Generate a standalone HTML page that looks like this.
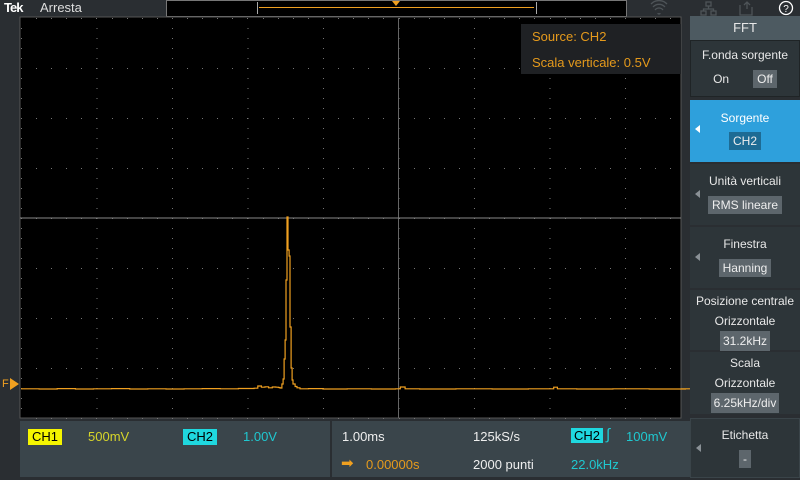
<!DOCTYPE html>
<html><head><meta charset="utf-8"><style>
body{margin:0;width:800px;height:480px;background:#2a2e32;overflow:hidden;font-family:"Liberation Sans",sans-serif;position:relative}
.abs{position:absolute}
.menu{position:absolute;left:690px;width:110px;background:#2d3539;color:#e8e8e8;font-size:12px;text-align:center}
.val{display:inline-block;background:#5d666c;color:#eee;padding:2px 4px;font-size:12px}
.tri{position:absolute;left:5px;width:0;height:0;border-top:4px solid transparent;border-bottom:4px solid transparent;border-right:5px solid #8a9196}
</style></head><body>
<div class="abs" style="left:4px;top:0;color:#fff;font-weight:bold;font-size:13px;letter-spacing:-1px">Tek</div>
<div class="abs" style="left:40px;top:0;color:#ddd;font-size:13px">Arresta</div>
<div class="abs" style="left:166px;top:0;width:459px;height:15px;border:1px solid #777;background:#000"></div>
<div class="abs" style="left:257px;top:2px;width:278px;height:12px;border-left:1px solid #aaa;border-right:1px solid #aaa"></div>
<div class="abs" style="left:259px;top:7px;width:275px;height:1px;background:#f0a020"></div>
<div class="abs" style="left:392px;top:1px;width:0;height:0;border-left:4px solid transparent;border-right:4px solid transparent;border-top:5px solid #f0a020"></div>
<svg class="abs" style="left:650px;top:0" width="150" height="17">
<g stroke="#4e5458" fill="none" stroke-width="1.3">
<path d="M8 13 a1 1 0 0 0 2 0" /><path d="M5 10 a5 5 0 0 1 8 0"/><path d="M3 7 a8 8 0 0 1 12 0"/><path d="M1 4 a11 11 0 0 1 16 0"/>
<rect x="56" y="2" width="5" height="4"/><rect x="51" y="11" width="5" height="4"/><rect x="61" y="11" width="5" height="4"/><path d="M58.5 6v3M53.5 11v-2h10v2"/>
<path d="M90 5v10h12v-8M97 9v-7M94 5l3-3 3 3"/></g>
<circle cx="136" cy="8" r="6.5" stroke="#fff" fill="none" stroke-width="1.3"/><text x="136" y="12" font-size="10" fill="#fff" text-anchor="middle" font-family="Liberation Sans">?</text>
</svg>
<svg class="abs" style="left:0;top:0" width="690" height="420" id="plot"></svg>
<div class="abs" style="left:521px;top:24px;width:160px;height:50px;background:#1f2124;color:#e59a1c;font-size:13px;line-height:26px;padding-left:11px;box-sizing:border-box">Source: CH2<br>Scala verticale: 0.5V</div>
<div class="abs" style="left:2px;top:378px;color:#f0a020;font-size:11px">F</div>
<div class="abs" style="left:10px;top:378px;border-top:6px solid transparent;border-bottom:6px solid transparent;border-left:9px solid #f0a020"></div>

<div class="abs" style="left:20px;top:421px;width:310px;height:56px;background:#3a454b"></div>
<div class="abs" style="left:28px;top:429px;background:#f5f500;color:#000;font-size:13px;padding:0 4px;line-height:16px">CH1</div>
<div class="abs" style="left:88px;top:429px;color:#d7d52a;font-size:13px">500mV</div>
<div class="abs" style="left:183px;top:429px;background:#1fd8df;color:#000;font-size:13px;padding:0 4px;line-height:16px">CH2</div>
<div class="abs" style="left:243px;top:429px;color:#1fc8d0;font-size:13px">1.00V</div>

<div class="abs" style="left:332px;top:421px;width:358px;height:56px;background:#3a454b"></div>
<div class="abs" style="left:342px;top:429px;color:#eee;font-size:13px">1.00ms</div>
<div class="abs" style="left:473px;top:429px;color:#eee;font-size:13px">125kS/s</div>
<div class="abs" style="left:571px;top:428px;background:#1fd8df;color:#000;font-size:13px;padding:0 3px;line-height:15px">CH2</div>
<div class="abs" style="left:606px;top:426px;color:#1fc8d0;font-size:15px;font-style:italic">∫</div>
<div class="abs" style="left:626px;top:429px;color:#1fc8d0;font-size:13px">100mV</div>
<div class="abs" style="left:341px;top:454px;color:#f0a020;font-size:15px">➡</div>
<div class="abs" style="left:366px;top:457px;color:#e59a1c;font-size:13px">0.00000s</div>
<div class="abs" style="left:473px;top:457px;color:#eee;font-size:13px">2000 punti</div>
<div class="abs" style="left:571px;top:457px;color:#1fc8d0;font-size:13px">22.0kHz</div>

<div class="menu" style="top:16px;height:24px;line-height:24px;background:#4d5a61;font-size:13px">FFT</div>
<div class="menu" style="top:40px;height:57px;border:1px solid #1f2426;box-sizing:border-box"><div style="margin-top:7px">F.onda sorgente</div><div style="margin-top:8px"><span style="margin-right:24px">On</span><span class="val" style="background:#5d666c">Off</span></div></div>
<div class="menu" style="top:100px;height:62px;background:#2ea0dc;color:#fff"><div class="tri" style="top:25px;border-right-color:#fff"></div><div style="margin-top:11px">Sorgente</div><div style="margin-top:7px"><span class="val" style="background:#1d6b94">CH2</span></div></div>
<div class="menu" style="top:164px;height:61px"><div class="tri" style="top:26px"></div><div style="margin-top:10px">Unità verticali</div><div style="margin-top:8px"><span class="val">RMS lineare</span></div></div>
<div class="menu" style="top:227px;height:61px"><div class="tri" style="top:26px"></div><div style="margin-top:10px">Finestra</div><div style="margin-top:8px"><span class="val">Hanning</span></div></div>
<div class="menu" style="top:290px;height:60px;line-height:20px"><div style="margin-top:1px">Posizione centrale</div><div>Orizzontale</div><div><span class="val" style="padding:0 3px">31.2kHz</span></div></div>
<div class="menu" style="top:352px;height:62px;line-height:20px"><div style="margin-top:1px">Scala</div><div>Orizzontale</div><div><span class="val" style="padding:0 3px">6.25kHz/div</span></div></div>
<div class="menu" style="top:418px;height:60px;border:1px solid #3a4449;box-sizing:border-box"><div class="tri" style="top:25px"></div><div style="margin-top:9px">Etichetta</div><div style="margin-top:8px"><span class="val" style="padding:2px 4px">-</span></div></div>

<script>
const freqs=[0,1.5,3,4.5,6,7.5,9,10.5,12,13.5,15,16.5,18,19.3,19.6,19.9,20.2,20.5,20.8,21.1,21.3,21.44,21.6,21.7,21.78,21.86,21.94,22.02,22.1,22.19,22.27,22.36,22.44,22.52,22.69,22.85,23.1,23.8,25,27,29,31,31.4,31.8,33,36,39,42,44.1,44.4,46,49,52,55,58,60.8];
const amps=[12,10,14,10,12,14,10,12,10,12,14,12,15,18,40,28,32,22,30,28,25,20,60,110,310,500,1100,1730,1400,1340,630,220,100,60,35,22,12,14,10,12,10,12,30,12,10,12,10,12,28,12,10,12,10,12,10,12];
const gridX=['0','6.25','12.5','18.75','25','31.25','37.5','43.75','50','56.25','62.5'];
const X0=21,DIV=75.5,KHZ_DIV=6.25,Y0=390,MV_PX=10,TOP=18,BOT=418,RIGHT=681;
const fx=f=>X0+f/KHZ_DIV*DIV, fy=a=>Y0-a/MV_PX;
const svg=document.getElementById('plot'),NS='http://www.w3.org/2000/svg';
function mk(t,a){const e=document.createElementNS(NS,t);for(const k in a)e.setAttribute(k,a[k]);svg.appendChild(e);return e;}
const bg=mk('rect',{x:20,y:17,width:RIGHT-20,height:BOT-17,fill:'#000',stroke:'#555'});


let d='';
gridX.forEach((g,i)=>{const x=X0+i*DIV;if(x>RIGHT)return;for(let y=TOP+10;y<BOT;y+=10)d+=`M${x} ${y}h1v1h-1z`;});
for(let j=0;j<=8;j++){const y=TOP+j*50;for(let x=X0+15.1;x<RIGHT;x+=15.1)d+=`M${Math.round(x)} ${y}h1v1h-1z`;}
const dots=mk('path',{d:d,fill:'#777'});


const ch=mk('line',{x1:X0+5*DIV,y1:TOP,x2:X0+5*DIV,y2:BOT,stroke:'#666'});


const chh=mk('line',{x1:20,y1:TOP+200,x2:RIGHT,y2:TOP+200,stroke:'#888'});


let p='M'+fx(freqs[0])+' '+fy(amps[0]);
for(let i=1;i<freqs.length;i++){p+=' H'+fx(freqs[i]).toFixed(1)+' V'+fy(amps[i]).toFixed(1);}
p+=' H'+RIGHT;
const tr=mk('path',{d:p,fill:'none',stroke:'#f0a020','stroke-width':1.2});


</script>
</body></html>
